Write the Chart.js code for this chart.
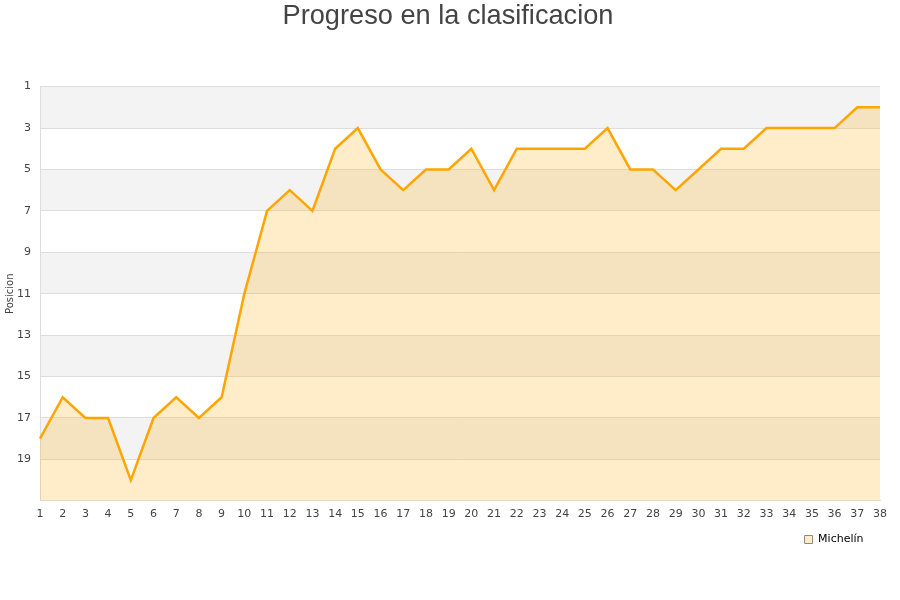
<!DOCTYPE html>
<html>
<head>
<meta charset="utf-8">
<script src="https://cdn.jsdelivr.net/npm/chart.js@4"></script>
<style>
  html, body { margin: 0; padding: 0; background: #fff; }
  #wrap { width: 900px; height: 600px; }
</style>
</head>
<body>
<div id="wrap"><canvas id="rankChart"></canvas></div>
<script>
// Jornadas y posiciones
const jornadas = [1, 2, 3, 4, 5, 6, 7, 8, 9, 10, 11, 12, 13, 14, 15, 16, 17, 18, 19,
  20, 21, 22, 23, 24, 25, 26, 27, 28, 29, 30, 31, 32, 33, 34, 35, 36, 37, 38];
const posiciones = [18, 16, 17, 17, 20, 17, 16, 17, 16, 11, 7, 6, 7, 4, 3, 5, 6, 5, 5,
  4, 6, 4, 4, 4, 4, 3, 5, 5, 6, 5, 4, 4, 3, 3, 3, 3, 2, 2];
const equipo = "Michelín";
const posMin = 1;
const posMax = 21;

// Franjas grises alternas detras de la rejilla
const bandas = {
  id: "bandas",
  beforeDraw(chart) {
    const { ctx, chartArea } = chart;
    const y = chart.scales.y;
    ctx.save();
    ctx.fillStyle = "#f3f3f3";
    for (let v = posMin; v < posMax; v += 4) {
      const top = y.getPixelForValue(v);
      const bottom = y.getPixelForValue(v + 2);
      ctx.fillRect(chartArea.left, top, chartArea.right - chartArea.left, bottom - top);
    }
    ctx.restore();
  },
};

const ctx = document.getElementById("rankChart").getContext("2d");
new Chart(ctx, {
  type: "line",
  data: {
    labels: jornadas,
    datasets: [
      {
        label: equipo,
        data: posiciones,
        borderColor: "#ffa500",
        backgroundColor: "rgba(255, 165, 0, 0.21)",
        borderWidth: 2.5,
        pointRadius: 0,
        tension: 0,
        fill: { value: posMax },
      },
    ],
  },
  options: {
    responsive: true,
    maintainAspectRatio: false,
    animation: false,
    layout: { padding: { left: 16, right: 20, top: 0, bottom: 45 } },
    plugins: {
      title: {
        display: true,
        text: "Progreso en la clasificacion",
        color: "#444",
        font: { family: "'Liberation Sans', Arial, sans-serif", size: 27.2, weight: "normal" },
        padding: { top: 0, bottom: 54 },
      },
      legend: {
        position: "bottom",
        align: "end",
        labels: {
          boxWidth: 8,
          boxHeight: 8,
          color: "#222",
          font: { family: "'DejaVu Sans', sans-serif", size: 11 },
          padding: 6,
          generateLabels: (chart) => [{
            text: equipo + "   ",
            fillStyle: "#ffecc8",
            strokeStyle: "#888",
            lineWidth: 1,
            datasetIndex: 0,
          }],
        },
      },
      tooltip: { enabled: false },
    },
    scales: {
      x: {
        offset: false,
        grid: { display: false, drawTicks: false },
        border: { color: "#ddd" },
        ticks: {
          color: "#444",
          font: { family: "'DejaVu Sans', sans-serif", size: 11 },
          autoSkip: false,
          maxRotation: 0,
          padding: 7,
        },
      },
      y: {
        reverse: true,
        min: posMin,
        max: posMax,
        afterFit: (scale) => { scale.width = 24; },
        grid: { color: "#dddddd", drawTicks: false },
        border: { color: "#ddd" },
        title: {
          display: true,
          text: "Posicion",
          color: "#444",
          font: { family: "'DejaVu Sans', sans-serif", size: 10 },
          padding: { top: -12, bottom: 0 },
        },
        ticks: {
          stepSize: 2,
          color: "#444",
          font: { family: "'DejaVu Sans', sans-serif", size: 11 },
          padding: 9,
          callback: (v) => (v === posMax ? "" : v),
        },
      },
    },
  },
  plugins: [bandas],
});
</script>
</body>
</html>
